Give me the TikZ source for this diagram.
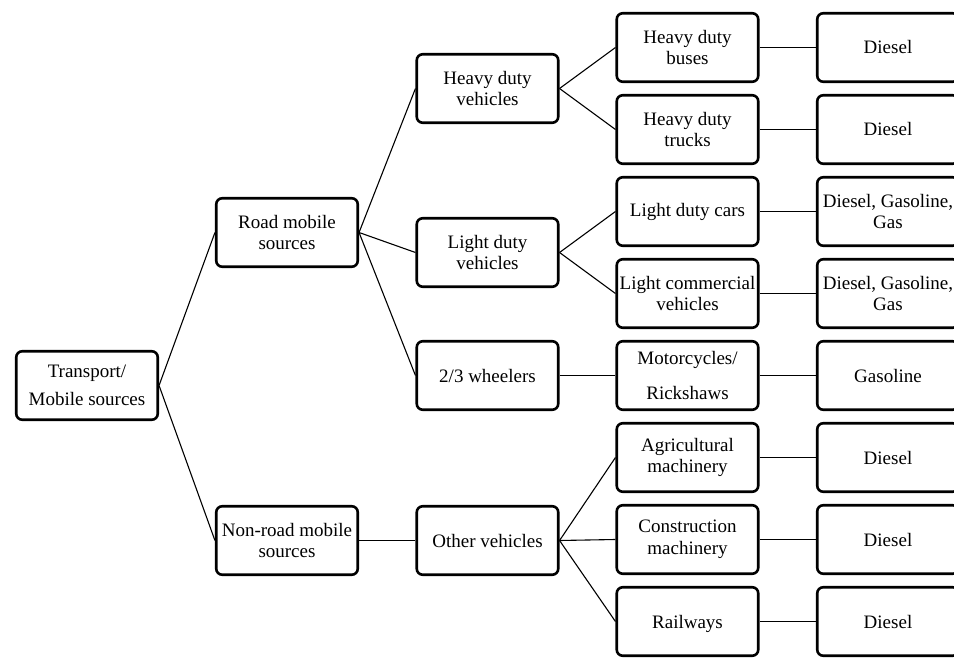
\documentclass[tikz,border=0pt]{standalone}
\usepackage{fontspec}
\setmainfont{Liberation Serif}
\begin{document}
\begin{tikzpicture}[x=1pt,y=-1pt,
  box/.style={draw, line width=2.6pt, rounded corners=6pt, minimum width=141.5pt, minimum height=68.5pt, inner sep=0pt, align=center, font=\fontsize{19}{21.5}\selectfont},
  link/.style={line width=1.1pt}]
\useasboundingbox (0,0) rectangle (954,658);
\clip (0,0) rectangle (954,658);
% column 1
\node[box] (t) at (87,385.5) {Transport/\\[6pt]Mobile sources};
% column 2
\node[box] (road) at (287,232.5) {Road mobile\\sources};
\node[box] (nonroad) at (287,540.5) {Non-road mobile\\sources};
% column 3
\node[box] (hdv) at (487.5,88.5) {Heavy duty\\vehicles};
\node[box] (ldv) at (487.5,252.5) {Light duty\\vehicles};
\node[box] (w23) at (487.5,375.5) {2/3 wheelers};
\node[box] (ov) at (487.5,540.5) {Other vehicles};
% column 4
\node[box] (hdb) at (687.5,47.5) {Heavy duty\\buses};
\node[box] (hdt) at (687.5,129.5) {Heavy duty\\trucks};
\node[box] (ldc) at (687.5,211.5) {Light duty cars};
\node[box] (lcv) at (687.5,293.5) {Light commercial\\vehicles};
\node[box] (moto) at (687.5,375.5) {Motorcycles/\\[13pt]Rickshaws};
\node[box] (agr) at (687.5,457.5) {Agricultural\\machinery};
\node[box] (con) at (687.5,539.5) {Construction\\machinery};
\node[box, text depth=0pt] (rail) at (687.5,621.5) {Railways};
% column 5
\node[box] (f1) at (888,47.5) {Diesel};
\node[box] (f2) at (888,129.5) {Diesel};
\node[box] (f3) at (888,211.5) {Diesel, Gasoline,\\Gas};
\node[box] (f4) at (888,293.5) {Diesel, Gasoline,\\Gas};
\node[box] (f5) at (888,375.5) {Gasoline};
\node[box] (f6) at (888,457.5) {Diesel};
\node[box] (f7) at (888,539.5) {Diesel};
\node[box] (f8) at (888,621.5) {Diesel};
% links
\draw[link] (t.east) -- (road.west);
\draw[link] (t.east) -- (nonroad.west);
\draw[link] (road.east) -- (hdv.west);
\draw[link] (road.east) -- (ldv.west);
\draw[link] (road.east) -- (w23.west);
\draw[link] (nonroad.east) -- (ov.west);
\draw[link] (hdv.east) -- (hdb.west);
\draw[link] (hdv.east) -- (hdt.west);
\draw[link] (ldv.east) -- (ldc.west);
\draw[link] (ldv.east) -- (lcv.west);
\draw[link] (w23.east) -- (moto.west);
\draw[link] (ov.east) -- (agr.west);
\draw[link] (ov.east) -- (con.west);
\draw[link] (ov.east) -- (rail.west);
\draw[link] (hdb.east) -- (f1.west);
\draw[link] (hdt.east) -- (f2.west);
\draw[link] (ldc.east) -- (f3.west);
\draw[link] (lcv.east) -- (f4.west);
\draw[link] (moto.east) -- (f5.west);
\draw[link] (agr.east) -- (f6.west);
\draw[link] (con.east) -- (f7.west);
\draw[link] (rail.east) -- (f8.west);
\end{tikzpicture}
\end{document}
